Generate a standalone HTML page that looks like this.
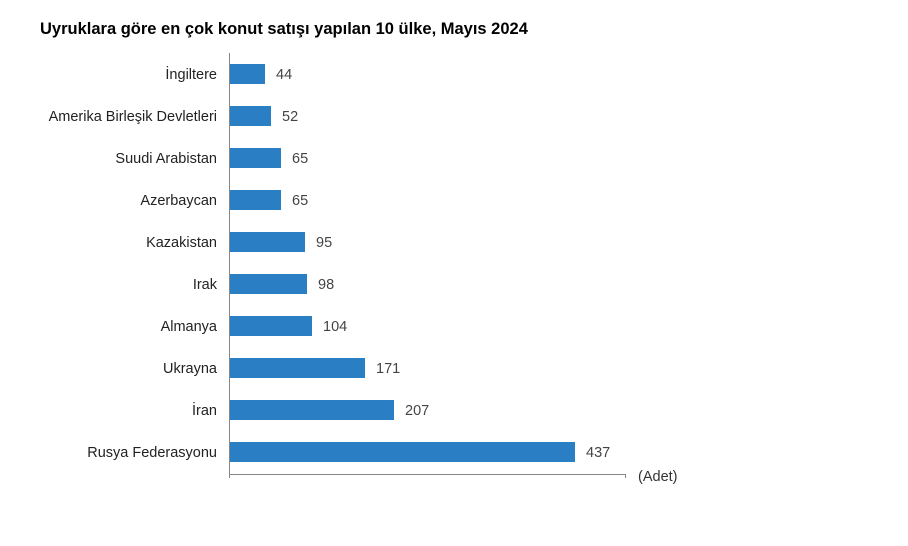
<!DOCTYPE html>
<html><head><style>
body{margin:0;background:#fff;}
</style></head><body>
<svg width="908" height="541" xmlns="http://www.w3.org/2000/svg" font-family="Liberation Sans, Arial, sans-serif">
<rect width="908" height="541" fill="#fff"/>
<text x="40" y="34" font-size="16.5" font-weight="bold" fill="#000">Uyruklara göre en çok konut satışı yapılan 10 ülke, Mayıs 2024</text>
<line x1="229.5" y1="53" x2="229.5" y2="478" stroke="#888" stroke-width="1"/>
<line x1="229" y1="474.5" x2="625" y2="474.5" stroke="#888" stroke-width="1"/>
<line x1="625.5" y1="474" x2="625.5" y2="478" stroke="#888" stroke-width="1"/>
<text x="638" y="481" font-size="14.5" fill="#333">(Adet)</text>
<g fill="#2a7fc4">
<rect x="230" y="64" width="35" height="20"/>
<rect x="230" y="106" width="41" height="20"/>
<rect x="230" y="148" width="51" height="20"/>
<rect x="230" y="190" width="51" height="20"/>
<rect x="230" y="232" width="75" height="20"/>
<rect x="230" y="274" width="77" height="20"/>
<rect x="230" y="316" width="82" height="20"/>
<rect x="230" y="358" width="135" height="20"/>
<rect x="230" y="400" width="164" height="20"/>
<rect x="230" y="442" width="345" height="20"/>
</g>
<g font-size="14.5" fill="#222" text-anchor="end">
<text x="217" y="79">İngiltere</text>
<text x="217" y="121">Amerika Birleşik Devletleri</text>
<text x="217" y="163">Suudi Arabistan</text>
<text x="217" y="205">Azerbaycan</text>
<text x="217" y="247">Kazakistan</text>
<text x="217" y="289">Irak</text>
<text x="217" y="331">Almanya</text>
<text x="217" y="373">Ukrayna</text>
<text x="217" y="415">İran</text>
<text x="217" y="457">Rusya Federasyonu</text>
</g>
<g font-size="14.5" fill="#444">
<text x="276" y="79">44</text>
<text x="282" y="121">52</text>
<text x="292" y="163">65</text>
<text x="292" y="205">65</text>
<text x="316" y="247">95</text>
<text x="318" y="289">98</text>
<text x="323" y="331">104</text>
<text x="376" y="373">171</text>
<text x="405" y="415">207</text>
<text x="586" y="457">437</text>
</g>
</svg>
</body></html>
